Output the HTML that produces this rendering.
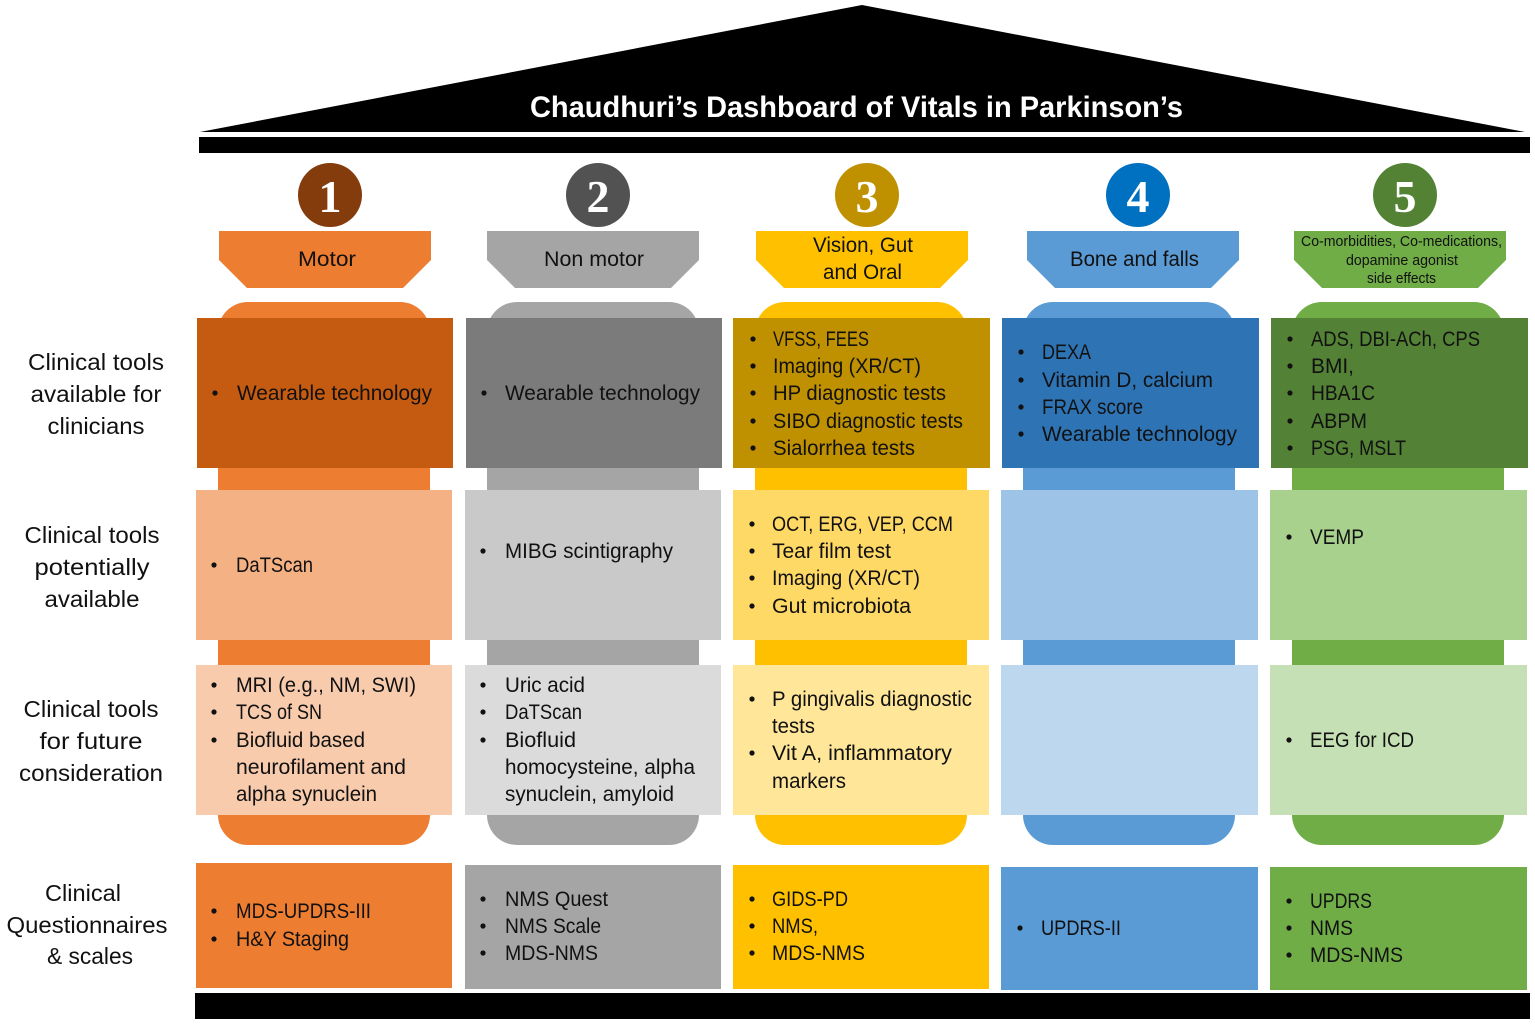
<!DOCTYPE html>
<html><head><meta charset="utf-8"><style>
html,body{margin:0;padding:0;background:#fff;width:1535px;height:1024px;overflow:hidden}
svg{display:block}
text{font-family:"Liberation Sans",sans-serif;font-size:21px;fill:#111;lengthAdjust:spacingAndGlyphs}
.m{text-anchor:middle}
.l{font-size:23px;text-anchor:middle;fill:#111}
.s{font-size:14.5px;text-anchor:middle}
.n{font-family:"Liberation Serif",serif;font-weight:bold;font-size:46px;fill:#fff;text-anchor:middle}
.t{font-weight:bold;font-size:30px;fill:#fff}
</style></head><body>
<svg width="1535" height="1024" viewBox="0 0 1535 1024" xmlns="http://www.w3.org/2000/svg">
<polygon points="200,132 862,5 1525,132" fill="#000"/>
<rect x="199" y="137" width="1331" height="16" fill="#000"/>
<rect x="195" y="993" width="1335" height="26" fill="#000"/>
<text class="t" x="530" y="117" textLength="653" lengthAdjust="spacingAndGlyphs">Chaudhuri’s Dashboard of Vitals in Parkinson’s</text>

<!-- pillars -->
<rect x="218" y="302" width="212" height="543" rx="30" fill="#ED7D31"/>
<rect x="487" y="302" width="212" height="543" rx="30" fill="#A5A5A5"/>
<rect x="755" y="302" width="212" height="543" rx="30" fill="#FFC000"/>
<rect x="1023" y="302" width="212" height="543" rx="30" fill="#5B9BD5"/>
<rect x="1292" y="302" width="212" height="543" rx="30" fill="#70AD47"/>

<!-- headers -->
<polygon points="219,231 431,231 431,260 403,288 247,288 219,260" fill="#ED7D31"/>
<polygon points="487,231 699,231 699,260 671,288 515,288 487,260" fill="#A5A5A5"/>
<polygon points="756,231 968,231 968,260 940,288 784,288 756,260" fill="#FFC000"/>
<polygon points="1027,231 1239,231 1239,260 1211,288 1055,288 1027,260" fill="#5B9BD5"/>
<polygon points="1294,231 1506,231 1506,260 1478,288 1322,288 1294,260" fill="#70AD47"/>

<!-- circles -->
<circle cx="330" cy="195" r="32" fill="#843C0C"/>
<circle cx="598" cy="195" r="32" fill="#525252"/>
<circle cx="867" cy="195" r="32" fill="#BF9000"/>
<circle cx="1138" cy="195" r="32" fill="#0070C0"/>
<circle cx="1405" cy="195" r="32" fill="#548235"/>
<text class="n" x="330" y="212">1</text>
<text class="n" x="598" y="212">2</text>
<text class="n" x="867" y="212">3</text>
<text class="n" x="1138" y="212">4</text>
<text class="n" x="1405" y="212">5</text>

<!-- row 1 -->
<rect x="197" y="318" width="256" height="150" fill="#C55A11"/>
<rect x="466" y="318" width="256" height="150" fill="#7B7B7B"/>
<rect x="733" y="318" width="257" height="150" fill="#BF9000"/>
<rect x="1002" y="318" width="257" height="150" fill="#2E74B5"/>
<rect x="1271" y="318" width="257" height="150" fill="#538135"/>
<!-- row 2 -->
<rect x="196" y="490" width="256" height="150" fill="#F4B183"/>
<rect x="465" y="490" width="256" height="150" fill="#C9C9C9"/>
<rect x="733" y="490" width="256" height="150" fill="#FFD966"/>
<rect x="1001" y="490" width="257" height="150" fill="#9DC3E6"/>
<rect x="1270" y="490" width="257" height="150" fill="#A9D18E"/>
<!-- row 3 -->
<rect x="196" y="665" width="256" height="150" fill="#F8CBAD"/>
<rect x="465" y="665" width="256" height="150" fill="#DBDBDB"/>
<rect x="733" y="665" width="256" height="150" fill="#FFE699"/>
<rect x="1001" y="665" width="257" height="150" fill="#BDD7EE"/>
<rect x="1270" y="665" width="257" height="150" fill="#C5E0B4"/>
<!-- row 4 -->
<rect x="196" y="863" width="256" height="125" fill="#ED7D31"/>
<rect x="465" y="865" width="256" height="124" fill="#A5A5A5"/>
<rect x="733" y="865" width="256" height="124" fill="#FFC000"/>
<rect x="1001" y="867" width="257" height="123" fill="#5B9BD5"/>
<rect x="1270" y="867" width="257" height="123" fill="#70AD47"/>

<!-- left labels -->
<text class="l" x="96" y="370" textLength="136" lengthAdjust="spacingAndGlyphs">Clinical tools</text>
<text class="l" x="96" y="402" textLength="131" lengthAdjust="spacingAndGlyphs">available for</text>
<text class="l" x="96" y="434" textLength="97" lengthAdjust="spacingAndGlyphs">clinicians</text>
<text class="l" x="92" y="543" textLength="135" lengthAdjust="spacingAndGlyphs">Clinical tools</text>
<text class="l" x="92" y="575" textLength="115" lengthAdjust="spacingAndGlyphs">potentially</text>
<text class="l" x="92" y="607" textLength="95" lengthAdjust="spacingAndGlyphs">available</text>
<text class="l" x="91" y="717" textLength="135" lengthAdjust="spacingAndGlyphs">Clinical tools</text>
<text class="l" x="91" y="749" textLength="103" lengthAdjust="spacingAndGlyphs">for future</text>
<text class="l" x="91" y="781" textLength="144" lengthAdjust="spacingAndGlyphs">consideration</text>
<text class="l" x="83" y="901" textLength="76" lengthAdjust="spacingAndGlyphs">Clinical</text>
<text class="l" x="87" y="933" textLength="161" lengthAdjust="spacingAndGlyphs">Questionnaires</text>
<text class="l" x="90" y="964" textLength="86" lengthAdjust="spacingAndGlyphs">&amp; scales</text>

<!-- header text -->
<text x="298" y="266" textLength="58" lengthAdjust="spacingAndGlyphs">Motor</text>
<text x="544" y="266" textLength="100" lengthAdjust="spacingAndGlyphs">Non motor</text>
<text x="813" y="252" textLength="100" lengthAdjust="spacingAndGlyphs">Vision, Gut</text>
<text x="823" y="279" textLength="79" lengthAdjust="spacingAndGlyphs">and Oral</text>
<text x="1070" y="266" textLength="129" lengthAdjust="spacingAndGlyphs">Bone and falls</text>
<text class="s" x="1401.5" y="246" textLength="201" lengthAdjust="spacingAndGlyphs">Co-morbidities, Co-medications,</text>
<text class="s" x="1402" y="265" textLength="112" lengthAdjust="spacingAndGlyphs">dopamine agonist</text>
<text class="s" x="1401.5" y="283" textLength="69" lengthAdjust="spacingAndGlyphs">side effects</text>

<!-- bullets dots -->
<g fill="#111">
<circle cx="215" cy="393" r="2.6"/><circle cx="484" cy="393" r="2.6"/>
<circle cx="753" cy="339" r="2.6"/><circle cx="753" cy="366" r="2.6"/><circle cx="753" cy="393" r="2.6"/><circle cx="753" cy="421" r="2.6"/><circle cx="753" cy="448" r="2.6"/>
<circle cx="1021" cy="352" r="2.6"/><circle cx="1021" cy="380" r="2.6"/><circle cx="1021" cy="407" r="2.6"/><circle cx="1021" cy="434" r="2.6"/>
<circle cx="1290" cy="339" r="2.6"/><circle cx="1290" cy="366" r="2.6"/><circle cx="1290" cy="393" r="2.6"/><circle cx="1290" cy="421" r="2.6"/><circle cx="1290" cy="448" r="2.6"/>
<circle cx="214" cy="565" r="2.6"/><circle cx="483" cy="551" r="2.6"/>
<circle cx="752" cy="524" r="2.6"/><circle cx="752" cy="551" r="2.6"/><circle cx="752" cy="578" r="2.6"/><circle cx="752" cy="606" r="2.6"/>
<circle cx="1289" cy="537" r="2.6"/>
<circle cx="214" cy="685" r="2.6"/><circle cx="214" cy="712" r="2.6"/><circle cx="214" cy="740" r="2.6"/>
<circle cx="483" cy="685" r="2.6"/><circle cx="483" cy="712" r="2.6"/><circle cx="483" cy="740" r="2.6"/>
<circle cx="752" cy="699" r="2.6"/><circle cx="752" cy="753" r="2.6"/>
<circle cx="1289" cy="740" r="2.6"/>
<circle cx="214" cy="911" r="2.6"/><circle cx="214" cy="939" r="2.6"/>
<circle cx="483" cy="899" r="2.6"/><circle cx="483" cy="926" r="2.6"/><circle cx="483" cy="953" r="2.6"/>
<circle cx="752" cy="899" r="2.6"/><circle cx="752" cy="926" r="2.6"/><circle cx="752" cy="953" r="2.6"/>
<circle cx="1020" cy="928" r="2.6"/>
<circle cx="1289" cy="901" r="2.6"/><circle cx="1289" cy="928" r="2.6"/><circle cx="1289" cy="955" r="2.6"/>
</g>

<!-- row 1 text -->
<text x="237" y="400" textLength="195" lengthAdjust="spacingAndGlyphs">Wearable technology</text>
<text x="505" y="400" textLength="195" lengthAdjust="spacingAndGlyphs">Wearable technology</text>
<text x="773" y="346" textLength="96" lengthAdjust="spacingAndGlyphs">VFSS, FEES</text>
<text x="773" y="373" textLength="148" lengthAdjust="spacingAndGlyphs">Imaging (XR/CT)</text>
<text x="773" y="400" textLength="173" lengthAdjust="spacingAndGlyphs">HP diagnostic tests</text>
<text x="773" y="428" textLength="190" lengthAdjust="spacingAndGlyphs">SIBO diagnostic tests</text>
<text x="773" y="455" textLength="142" lengthAdjust="spacingAndGlyphs">Sialorrhea tests</text>
<text x="1042" y="359" textLength="49" lengthAdjust="spacingAndGlyphs">DEXA</text>
<text x="1042" y="387" textLength="171" lengthAdjust="spacingAndGlyphs">Vitamin D, calcium</text>
<text x="1042" y="414" textLength="101" lengthAdjust="spacingAndGlyphs">FRAX score</text>
<text x="1042" y="441" textLength="195" lengthAdjust="spacingAndGlyphs">Wearable technology</text>
<text x="1311" y="346" textLength="169" lengthAdjust="spacingAndGlyphs">ADS, DBI-ACh, CPS</text>
<text x="1311" y="373" textLength="43" lengthAdjust="spacingAndGlyphs">BMI,</text>
<text x="1311" y="400" textLength="64" lengthAdjust="spacingAndGlyphs">HBA1C</text>
<text x="1311" y="428" textLength="56" lengthAdjust="spacingAndGlyphs">ABPM</text>
<text x="1311" y="455" textLength="95" lengthAdjust="spacingAndGlyphs">PSG, MSLT</text>

<!-- row 2 text -->
<text x="236" y="572" textLength="77" lengthAdjust="spacingAndGlyphs">DaTScan</text>
<text x="505" y="558" textLength="168" lengthAdjust="spacingAndGlyphs">MIBG scintigraphy</text>
<text x="772" y="531" textLength="181" lengthAdjust="spacingAndGlyphs">OCT, ERG, VEP, CCM</text>
<text x="772" y="558" textLength="119" lengthAdjust="spacingAndGlyphs">Tear film test</text>
<text x="772" y="585" textLength="148" lengthAdjust="spacingAndGlyphs">Imaging (XR/CT)</text>
<text x="772" y="613" textLength="139" lengthAdjust="spacingAndGlyphs">Gut microbiota</text>
<text x="1310" y="544" textLength="54" lengthAdjust="spacingAndGlyphs">VEMP</text>

<!-- row 3 text -->
<text x="236" y="692" textLength="180" lengthAdjust="spacingAndGlyphs">MRI (e.g., NM, SWI)</text>
<text x="236" y="719" textLength="86" lengthAdjust="spacingAndGlyphs">TCS of SN</text>
<text x="236" y="747" textLength="129" lengthAdjust="spacingAndGlyphs">Biofluid based</text>
<text x="236" y="774" textLength="170" lengthAdjust="spacingAndGlyphs">neurofilament and</text>
<text x="236" y="801" textLength="141" lengthAdjust="spacingAndGlyphs">alpha synuclein</text>
<text x="505" y="692" textLength="80" lengthAdjust="spacingAndGlyphs">Uric acid</text>
<text x="505" y="719" textLength="77" lengthAdjust="spacingAndGlyphs">DaTScan</text>
<text x="505" y="747" textLength="71" lengthAdjust="spacingAndGlyphs">Biofluid</text>
<text x="505" y="774" textLength="190" lengthAdjust="spacingAndGlyphs">homocysteine, alpha</text>
<text x="505" y="801" textLength="169" lengthAdjust="spacingAndGlyphs">synuclein, amyloid</text>
<text x="772" y="706" textLength="200" lengthAdjust="spacingAndGlyphs">P gingivalis diagnostic</text>
<text x="772" y="733" textLength="43" lengthAdjust="spacingAndGlyphs">tests</text>
<text x="772" y="760" textLength="180" lengthAdjust="spacingAndGlyphs">Vit A, inflammatory</text>
<text x="772" y="788" textLength="74" lengthAdjust="spacingAndGlyphs">markers</text>
<text x="1310" y="747" textLength="104" lengthAdjust="spacingAndGlyphs">EEG for ICD</text>

<!-- row 4 text -->
<text x="236" y="918" textLength="135" lengthAdjust="spacingAndGlyphs">MDS-UPDRS-III</text>
<text x="236" y="946" textLength="113" lengthAdjust="spacingAndGlyphs">H&amp;Y Staging</text>
<text x="505" y="906" textLength="103" lengthAdjust="spacingAndGlyphs">NMS Quest</text>
<text x="505" y="933" textLength="96" lengthAdjust="spacingAndGlyphs">NMS Scale</text>
<text x="505" y="960" textLength="93" lengthAdjust="spacingAndGlyphs">MDS-NMS</text>
<text x="772" y="906" textLength="76" lengthAdjust="spacingAndGlyphs">GIDS-PD</text>
<text x="772" y="933" textLength="46" lengthAdjust="spacingAndGlyphs">NMS,</text>
<text x="772" y="960" textLength="93" lengthAdjust="spacingAndGlyphs">MDS-NMS</text>
<text x="1041" y="935" textLength="80" lengthAdjust="spacingAndGlyphs">UPDRS-II</text>
<text x="1310" y="908" textLength="62" lengthAdjust="spacingAndGlyphs">UPDRS</text>
<text x="1310" y="935" textLength="43" lengthAdjust="spacingAndGlyphs">NMS</text>
<text x="1310" y="962" textLength="93" lengthAdjust="spacingAndGlyphs">MDS-NMS</text>
</svg>
</body></html>
